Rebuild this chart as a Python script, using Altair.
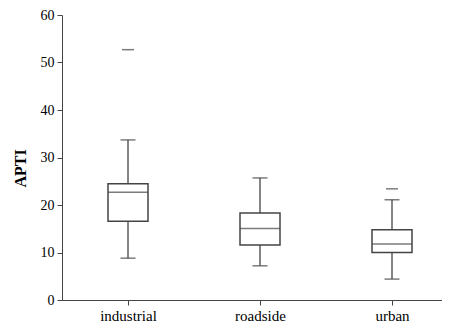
import altair as alt
import pandas as pd

categories = ["industrial", "roadside", "urban"]
whisker_low = [8.8, 7.2, 4.4]
q1 = [16.6, 11.6, 10.0]
median = [22.7, 15.05, 11.8]
q3 = [24.5, 18.3, 14.8]
whisker_high = [33.7, 25.7, 21.1]
outlier_cat = ["industrial", "urban"]
outlier_val = [52.7, 23.4]

df = pd.DataFrame({"cat": categories, "lo": whisker_low, "q1": q1,
                   "med": median, "q3": q3, "hi": whisker_high})
dfo = pd.DataFrame({"cat": outlier_cat, "v": outlier_val})

FONT = "Times New Roman, Liberation Serif, serif"
STROKE = "#444444"

xscale = alt.Scale(type="point", domain=categories, padding=0.4394, align=0.569)
x = alt.X("cat:N", scale=xscale, sort=categories,
          axis=alt.Axis(title=None, labelAngle=0, labelFont=FONT, labelFontSize=15,
                        labelColor="black", tickSize=5, labelPadding=3,
                        domainColor=STROKE, tickColor=STROKE))
yscale = alt.Scale(domain=[0, 60], nice=False)
yaxis = alt.Axis(title="APTI", values=[0, 10, 20, 30, 40, 50, 60], grid=False,
                 labelFont=FONT, labelFontSize=14, labelColor="black",
                 titleFont=FONT, titleFontSize=16, titleFontWeight="bold",
                 titleColor="black", tickSize=5, labelPadding=3,
                 domainColor=STROKE, tickColor=STROKE, titleX=-34, titleY=153)

base = alt.Chart(df)
whisk = base.mark_rule(color=STROKE, strokeWidth=1.3).encode(
    x=x, y=alt.Y("lo:Q", scale=yscale, axis=yaxis), y2="hi:Q")
box = base.mark_bar(size=40, fill="white", stroke=STROKE, strokeWidth=1.5).encode(
    x=x, y=alt.Y("q1:Q", scale=yscale), y2="q3:Q")
med = base.mark_tick(size=40, color=STROKE, thickness=1.5).encode(
    x=x, y=alt.Y("med:Q", scale=yscale))
caplo = base.mark_tick(size=15, color=STROKE, thickness=1.5).encode(
    x=x, y=alt.Y("lo:Q", scale=yscale))
caphi = base.mark_tick(size=15, color=STROKE, thickness=1.5).encode(
    x=x, y=alt.Y("hi:Q", scale=yscale))
outl = alt.Chart(dfo).mark_tick(size=12, color=STROKE, thickness=1.5).encode(
    x=x, y=alt.Y("v:Q", scale=yscale))

chart = alt.layer(whisk, box, med, caplo, caphi, outl).properties(
    width=380, height=285,
    background="white",
    autosize=alt.AutoSizeParams(type="none"),
    padding={"left": 54, "top": 7, "right": 0, "bottom": 22},
).configure_view(stroke=None)

chart.save("out.html", embed_options={"renderer": "svg", "actions": False})
